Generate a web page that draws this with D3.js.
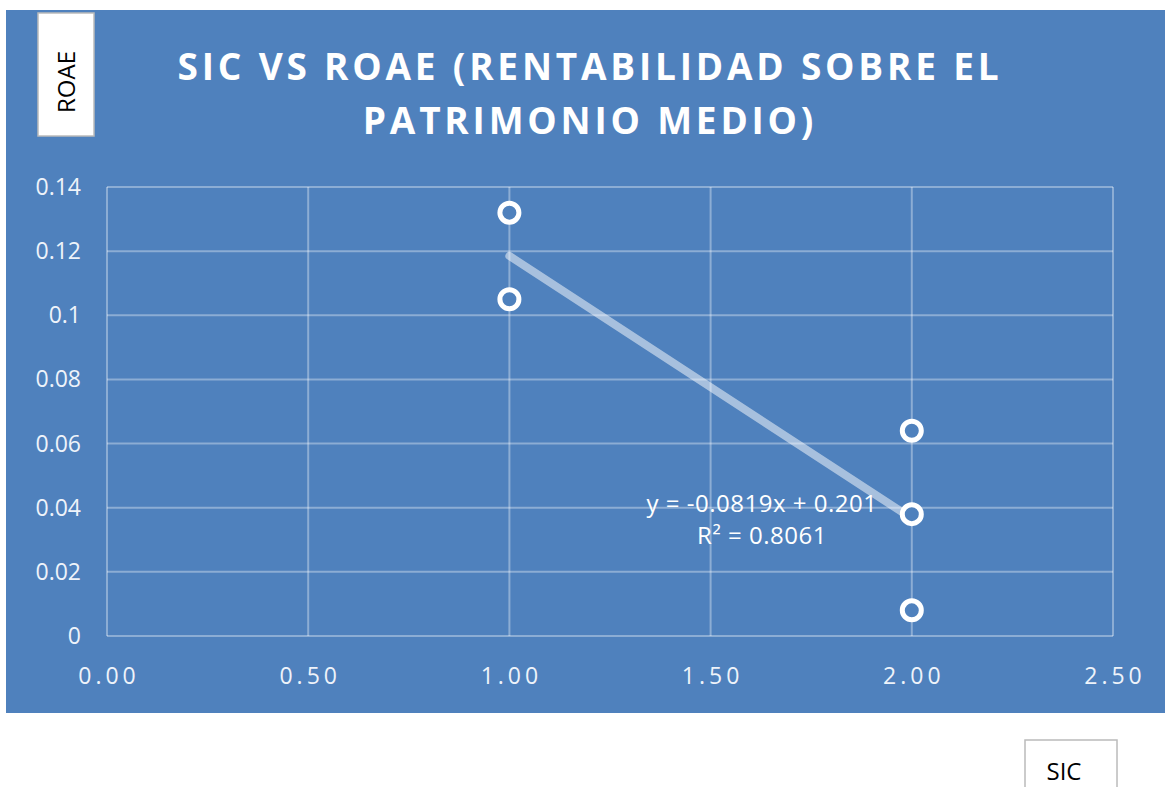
<!DOCTYPE html>
<html>
<head>
<meta charset="utf-8">
<script src="https://cdn.jsdelivr.net/npm/d3@7"></script>
<style>
  body { margin: 0; background: #fff; }
</style>
</head>
<body>
<svg width="1165" height="787"></svg>
<script>
// data
const sic = [1, 1, 2, 2, 2]
const roae = [0.132, 0.105, 0.064, 0.038, 0.008]
const xTicks = [0, 0.5, 1, 1.5, 2, 2.5]
const yTicks = [0, 0.02, 0.04, 0.06, 0.08, 0.1, 0.12, 0.14]
const titleLines = ['SIC VS ROAE (RENTABILIDAD SOBRE EL', 'PATRIMONIO MEDIO)']
const equationLines = ['y = -0.0819x + 0.201', 'R² = 0.8061']

const svg = d3.select('svg')
const width = +svg.attr('width')
const height = +svg.attr('height')
const font = 'Open Sans, Noto Sans, sans-serif'
const blue = '#4f81bd'
const grid = 'rgba(255,255,255,0.35)'

svg.append('rect')
    .attr('x', 6).attr('y', 10)
    .attr('width', width - 6).attr('height', 703)
    .attr('fill', blue)

const x = d3.scaleLinear().domain([0, 2.5]).range([107, 1113])
const y = d3.scaleLinear().domain([0, 0.14]).range([636, 187])

// grid
svg.append('g').selectAll('line').data(yTicks).join('line')
    .attr('x1', x(0)).attr('x2', x(2.5))
    .attr('y1', d => y(d)).attr('y2', d => y(d))
    .attr('stroke', grid).attr('stroke-width', 2)
svg.append('g').selectAll('line').data(xTicks).join('line')
    .attr('x1', d => x(d)).attr('x2', d => x(d))
    .attr('y1', y(0)).attr('y2', y(0.14))
    .attr('stroke', grid).attr('stroke-width', 2)

// tick labels
svg.append('g').selectAll('text').data(yTicks).join('text')
    .attr('x', 81).attr('y', d => y(d) + 8)
    .attr('text-anchor', 'end')
    .attr('font-family', font).attr('font-size', 23)
    .attr('fill', '#eef3fa')
    .text(d => d3.format('~g')(d))
svg.append('g').selectAll('text').data(xTicks).join('text')
    .attr('x', d => x(d) + 2).attr('y', 684)
    .attr('text-anchor', 'middle')
    .attr('font-family', font).attr('font-size', 23)
    .attr('letter-spacing', 4)
    .attr('fill', '#eef3fa')
    .text(d => d3.format('.2f')(d))

// trend line from least squares
const mx = d3.mean(sic), my = d3.mean(roae)
const slope = d3.sum(sic, (v, i) => (v - mx) * (roae[i] - my)) / d3.sum(sic, v => (v - mx) ** 2)
const icept = my - slope * mx
const xr = d3.extent(sic)
svg.append('line')
    .attr('x1', x(xr[0])).attr('y1', y(slope * xr[0] + icept))
    .attr('x2', x(xr[1])).attr('y2', y(slope * xr[1] + icept))
    .attr('stroke', '#fff').attr('stroke-opacity', 0.5).attr('stroke-width', 8)
    .attr('stroke-linecap', 'round')

// points
svg.append('g').selectAll('circle').data(sic).join('circle')
    .attr('cx', d => x(d)).attr('cy', (d, i) => y(roae[i]))
    .attr('r', 9.5)
    .attr('fill', blue).attr('stroke', '#fff').attr('stroke-width', 5)

// equation
svg.append('g').selectAll('text').data(equationLines).join('text')
    .attr('x', 762).attr('y', (d, i) => 512 + i * 32)
    .attr('text-anchor', 'middle')
    .attr('font-family', font).attr('font-size', 24)
    .attr('letter-spacing', 0.5)
    .attr('fill', '#fff')
    .text(d => d)

// title
svg.append('g').selectAll('text').data(titleLines).join('text')
    .attr('x', 590).attr('y', (d, i) => 80 + i * 54)
    .attr('text-anchor', 'middle')
    .attr('font-family', font).attr('font-size', 37).attr('font-weight', 'bold')
    .attr('letter-spacing', 3.8)
    .attr('fill', '#fff')
    .text(d => d)

// axis title boxes
svg.append('rect')
    .attr('x', 38).attr('y', 13).attr('width', 56).attr('height', 123)
    .attr('fill', '#fff').attr('stroke', '#bbb').attr('stroke-width', 1.5)
svg.append('text')
    .attr('transform', 'translate(75, 82) rotate(-90)')
    .attr('text-anchor', 'middle')
    .attr('font-family', font).attr('font-size', 24)
    .attr('fill', '#000')
    .text('ROAE')

svg.append('rect')
    .attr('x', 1025).attr('y', 740).attr('width', 92).attr('height', 60)
    .attr('fill', '#fff').attr('stroke', '#bbb').attr('stroke-width', 1.5)
svg.append('text')
    .attr('x', 1064).attr('y', 780)
    .attr('text-anchor', 'middle')
    .attr('font-family', font).attr('font-size', 24)
    .attr('fill', '#000')
    .text('SIC')
</script>
</body>
</html>
